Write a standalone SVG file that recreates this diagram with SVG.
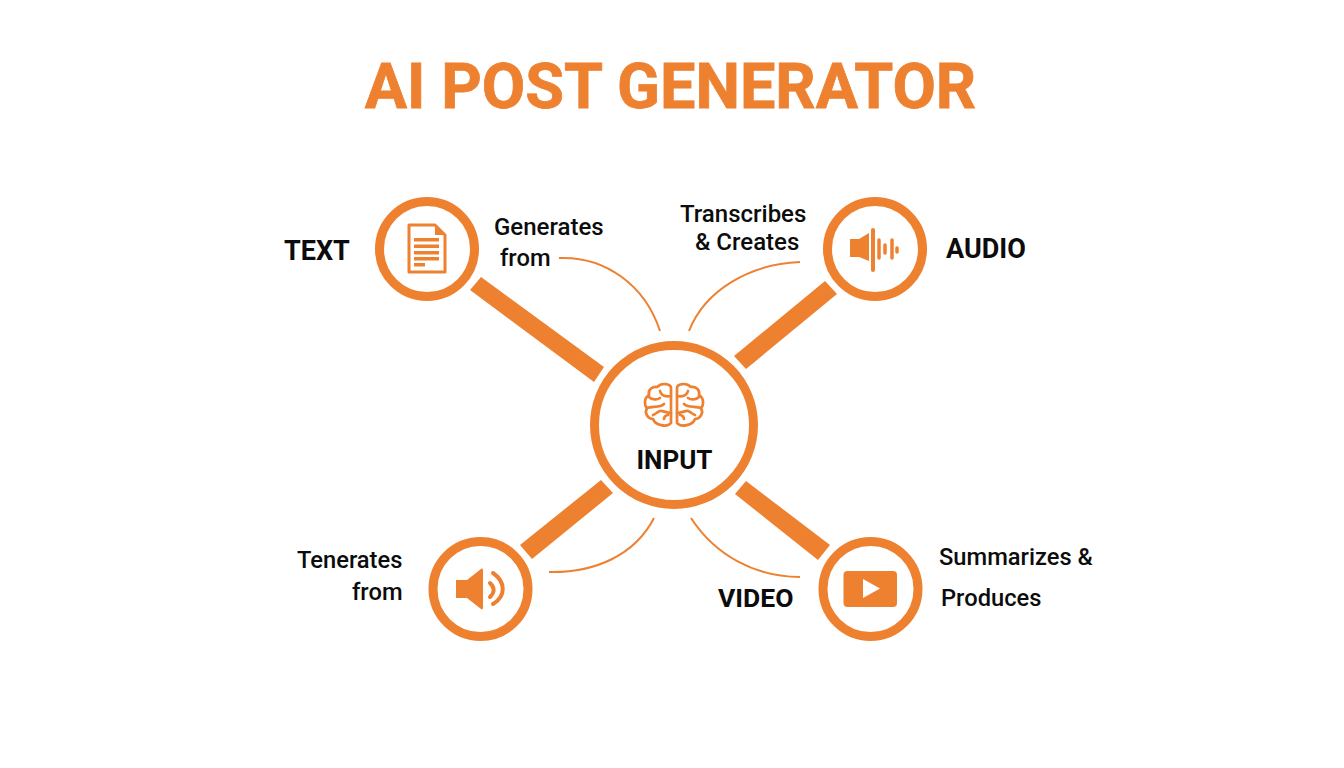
<svg xmlns="http://www.w3.org/2000/svg" width="1344" height="768" viewBox="0 0 1344 768">
<style>
text{font-family:Roboto,"Liberation Sans",sans-serif;fill:#0c0c0c}
.t{font-weight:700;font-size:27px}
.l{font-weight:500;font-size:23.700px}
.w{font-size:24px}
.ring{fill:#fff;stroke:#ee8130;stroke-width:9}
.bar{fill:#ee8130}
.cv{fill:none;stroke:#ee8130;stroke-width:2}
.f{fill:#ee8130}
.s{fill:none;stroke:#ee8130;stroke-linecap:round;stroke-linejoin:round}
</style>
<rect width="1344" height="768" fill="#fff"/>
<text id="title" x="670.500" y="108" text-anchor="middle" font-size="63" style="fill:#ee8130;font-weight:700;stroke:#ee8130;stroke-width:.8">AI POST GENERATOR</text>
<g id="connectors">
<polygon class="bar" points="481,277 604,367 594,382 470,290"/>
<polygon class="bar" points="825,281 837,294 746,369 734,356"/>
<polygon class="bar" points="601,480 613,493 532,559 520,545"/>
<polygon class="bar" points="746,481 830,545 818,560 735,494"/>
<path class="cv" d="M559 258C605 256 645 285 660 331"/>
<path class="cv" d="M800 262C750 264 705 290 689 331"/>
<path class="cv" d="M549 572C595 573 635 555 654 518"/>
<path class="cv" d="M800 577C755 577 715 555 691 518"/>
</g>
<g id="node-input">
<circle class="ring" cx="674" cy="425" r="79.500"/>
<g class="s" stroke-width="2.700">
<path d="M671 388C671 384 662 382 657 387C651 386 648 391 649 395C644 398 644 405 647 408C644 413 648 419 653 419C655 425 667 428 671 423Z"/>
<path d="M677 388C677 384 686 382 691 387C697 386 700 391 699 395C704 398 704 405 701 408C704 413 700 419 695 419C693 425 681 428 677 423Z"/>
<path d="M671 396C665 397 661 395 660 391M649 397C652 400 657 400 660 398M647 408C652 406 660 408 664 404M671 413C666 413 662 410 660 411C657 412 656 414 653 415M664 419C664 417 666 415 668 415"/>
<path d="M677 396C683 397 687 395 688 391M699 397C696 400 691 400 688 398M701 408C696 406 688 408 684 404M677 413C682 413 686 410 688 411C691 412 692 414 695 415M684 419C684 417 682 415 680 415"/>
</g>
<text x="674.500" y="469" text-anchor="middle" class="t" style="font-size:26px">INPUT</text>
</g>
<g id="node-text">
<circle class="ring" cx="427" cy="249" r="47.500"/>
<path d="M409 225H435L445 235V272H409Z" fill="none" stroke="#ee8130" stroke-width="3" stroke-linejoin="round"/>
<path class="f" d="M435 225L445 235H435Z"/>
<path class="f" d="M414 238H439V241.500H414ZM414 244.500H439V248H414ZM414 251H439V254.500H414ZM414 257H439V260.500H414ZM414 263H425V266.500H414Z"/>
<text x="284" y="260" class="t">TEXT</text>
</g>
<g id="node-audio">
<circle class="ring" cx="875" cy="249" r="47.500"/>
<path class="f" d="M850 239H859L869 233V261L859 257H850Z"/>
<path class="s" stroke-width="4" d="M873 230V270"/>
<path class="s" stroke-width="3.500" d="M879 240V258M885 245V253M892 240V258M897 248V252"/>
<text x="946" y="258" class="t">AUDIO</text>
</g>
<g id="node-speaker">
<circle class="ring" cx="480.500" cy="589" r="47.500"/>
<path class="f" d="M456 580H467L481 569C482 568 483 569 483 570V608C483 609 482 610 481 609L467 598H456Z"/>
<path class="s" stroke-width="4" d="M490 583C495 588 495 592 490 597M493 573C506 582 506 596 493 604"/>
</g>
<g id="node-video">
<circle class="ring" cx="870.500" cy="589" r="47.500"/>
<rect class="f" x="843.500" y="571" width="53.500" height="36" rx="4"/>
<path d="M863 579L880 588.500L863 598Z" fill="#fff"/>
<text x="718" y="607" class="t" style="font-size:26.500px">VIDEO</text>
</g>
<g id="labels">
<text x="494" y="235" class="l w">Generates</text>
<text x="500" y="266" class="l">from</text>
<text x="680" y="222" class="l w">Transcribes</text>
<text x="695" y="250" class="l w">&amp; Creates</text>
<text x="297" y="568" class="l">Tenerates</text>
<text x="352" y="600" class="l">from</text>
<text x="939" y="565" class="l">Summarizes &amp;</text>
<text x="941" y="606" class="l">Produces</text>
</g>
</svg>
